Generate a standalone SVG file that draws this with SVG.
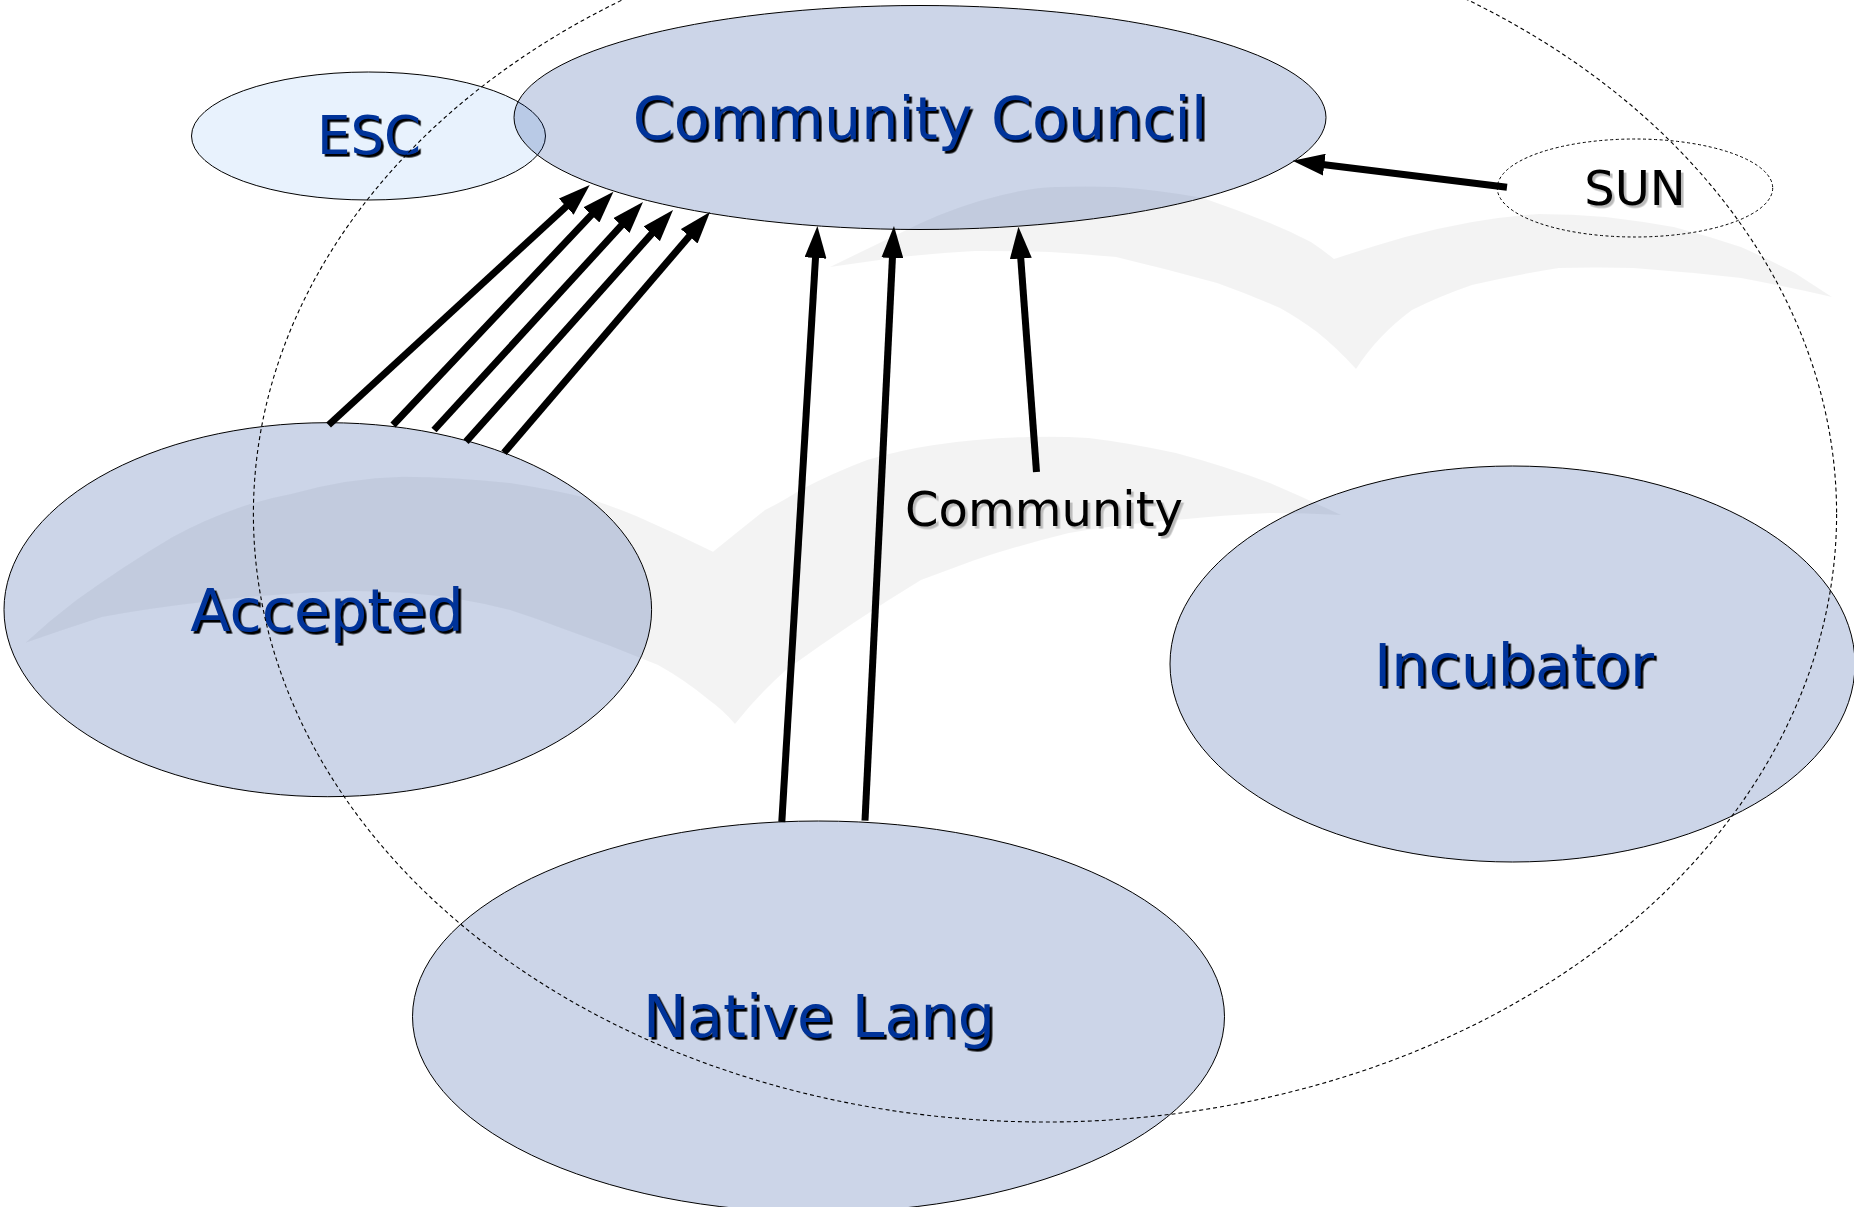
<svg xmlns="http://www.w3.org/2000/svg" width="1854" height="1207" viewBox="0 0 1854 1207">
<style>
.swoosh{fill:#000;fill-opacity:.047;stroke:none}
.n{fill:#002d8c;fill-opacity:.2;stroke:#000;stroke-width:1}
.t{font-family:"DejaVu Sans",sans-serif;text-anchor:middle}
.big{font-size:58.7px;fill:#039;filter:url(#sb)}
.small{font-size:48px;fill:#000;filter:url(#sg)}
.arrow{stroke:#000;stroke-width:7;fill:none;marker-end:url(#ah)}
</style>
<defs>
<filter id="sb" x="-5%" y="-10%" width="110%" height="120%" color-interpolation-filters="sRGB"><feDropShadow dx="2.6" dy="2.6" stdDeviation="0" flood-color="#000"/></filter>
<filter id="sg" x="-5%" y="-10%" width="110%" height="120%" color-interpolation-filters="sRGB"><feDropShadow dx="2.6" dy="2.6" stdDeviation="0" flood-color="#bbb"/></filter>
<marker id="ah" markerUnits="userSpaceOnUse" markerWidth="32" markerHeight="22" refX="12" refY="11" orient="auto"><polygon points="0,0 32,11 0,22" fill="#000"/></marker>
</defs>
<rect width="1854" height="1207" fill="#fff"/>
<g id="backdrop">
<path class="swoosh" d="M25.5,642.7 Q50,620 76.5,600 Q125,565 173,536.7 Q232,505 291,494 Q347,478 403,476.7 Q456,477 510,483 Q550,489 587,498 Q612,506 638,516.7 Q675,533 713,551.7 Q740,530 765,510 Q785,500 800,490 Q835,472 867,460 Q900,450 934,445 Q980,438 1028,437 Q1060,436 1089,438 Q1130,443 1176,453 Q1225,466 1270,483 Q1305,498 1341,515 Q1305,513 1270,513 Q1225,515 1176,520 Q1120,524 1069,533 Q1020,545 975,560 Q948,570 921,580 Q855,620 786,670 Q758,695 735,724 Q723,710 709,700 Q685,680 658,665 Q610,645 561,628 Q535,618 510,610 Q460,597 408,593 Q378,591 347,591 Q275,593 204,602 Q150,608 102,617 Q62,630 25.5,642.7 Z"/>
<path class="swoosh" d="M830,267 Q875,245 921,223 Q960,205 1002,195 Q1030,188 1055,187 Q1085,186 1116,187 Q1160,190 1203,198 Q1238,210 1270,223 Q1292,232 1311,242 Q1323,250 1334,259 Q1370,247 1405,237 Q1438,228 1472,222 Q1505,216 1539,214 Q1572,214 1606,217 Q1640,221 1674,227 Q1708,236 1741,247 Q1768,259 1795,273 Q1815,286 1832,297 Q1788,287 1741,278 Q1688,272 1633,268 Q1596,267 1559,268 Q1515,275 1472,285 Q1440,296 1412,310 Q1378,335 1356,369 Q1337,348 1317,332 Q1298,318 1280,308 Q1248,294 1217,283 Q1166,269 1116,257 Q1082,254 1049,252 Q1012,251 975,251 Q938,253 901,257 Q865,262 830,267 Z"/>
</g>
<g id="node-esc"><ellipse cx="368.5" cy="136" rx="177" ry="64" fill="#1a7fee" fill-opacity=".1" stroke="#000" stroke-width="1"/><text class="t big" x="369" y="154" style="font-size:53px">ESC</text></g>
<g id="node-council"><ellipse class="n" cx="920" cy="117.5" rx="406" ry="112"/><text class="t big" x="920" y="139">Community Council</text></g>
<g id="node-accepted"><ellipse class="n" cx="327.8" cy="609.7" rx="323.8" ry="187"/><text class="t big" x="327" y="631">Accepted</text></g>
<g id="node-incubator"><ellipse class="n" cx="1512.5" cy="664" rx="342.5" ry="198"/><text class="t big" x="1514" y="685.5">Incubator</text></g>
<g id="node-native"><ellipse class="n" cx="818.5" cy="1016.7" rx="406" ry="195.7"/><text class="t big" x="819" y="1037">Native Lang</text></g>
<g id="node-sun"><ellipse cx="1635" cy="188" rx="137.7" ry="49" fill="none" stroke="#000" stroke-width="1" stroke-dasharray="3 2.5"/><text class="t small" x="1635" y="204.5">SUN</text></g>
<g id="node-community"><text class="t small" x="1044" y="525.5">Community</text></g>
<g id="connectors">
<line class="arrow" x1="328.6" y1="425" x2="575" y2="198.5"/>
<line class="arrow" x1="393" y1="425" x2="599.7" y2="206.2"/>
<line class="arrow" x1="434" y1="430" x2="629.5" y2="216.7"/>
<line class="arrow" x1="466" y1="441.7" x2="659.7" y2="224.9"/>
<line class="arrow" x1="504" y1="452.7" x2="697" y2="227.2"/>
<line class="arrow" x1="781.8" y1="822" x2="816.2" y2="246"/>
<line class="arrow" x1="865" y1="820.7" x2="893" y2="246"/>
<line class="arrow" x1="1036.5" y1="472" x2="1019.9" y2="246.6"/>
<line class="arrow" x1="1507" y1="187.3" x2="1312.4" y2="163.2"/>
</g>
<g id="node-boundary"><ellipse cx="1045" cy="514" rx="791.6" ry="608" fill="none" stroke="#000" stroke-width="1.1" stroke-dasharray="4 3"/></g>
</svg>
